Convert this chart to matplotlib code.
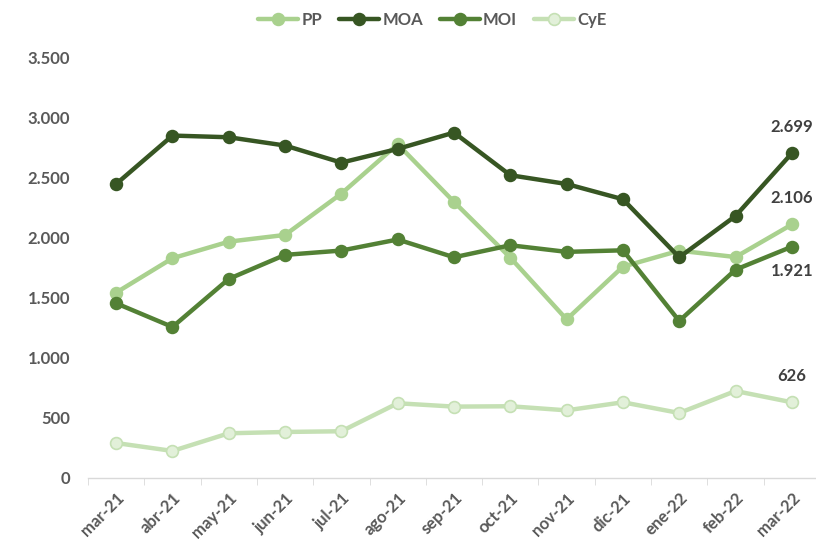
import matplotlib
matplotlib.use("Agg")
import matplotlib.pyplot as plt
from matplotlib.ticker import FuncFormatter

months = ["mar-21", "abr-21", "may-21", "jun-21", "jul-21", "ago-21", "sep-21",
          "oct-21", "nov-21", "dic-21", "ene-22", "feb-22", "mar-22"]
pp = [1539, 1825, 1963, 2019, 2363, 2774, 2294, 1830, 1316, 1755, 1888, 1835, 2106]
moa = [2443, 2846, 2832, 2763, 2621, 2735, 2871, 2516, 2443, 2316, 1833, 2177, 2699]
moi = [1450, 1253, 1653, 1853, 1889, 1981, 1833, 1933, 1878, 1891, 1303, 1730, 1921]
cye = [287, 221, 368, 379, 385, 618, 590, 593, 559, 626, 537, 720, 626]

plt.rcParams['font.family'] = ['Lato', 'DejaVu Sans']

fig = plt.figure(figsize=(8.16, 5.41), dpi=100)
ax = fig.add_axes([88/816, 1-477.5/541, 732/816, 420.5/541])

x = list(range(len(months)))
series = [
    ("PP", pp, "#a9d18e", "#a9d18e", "#a9d18e"),
    ("MOA", moa, "#375623", "#375623", "#375623"),
    ("MOI", moi, "#538135", "#538135", "#538135"),
    ("CyE", cye, "#c5e0b4", "#e2f0d9", "#c5e0b4"),
]
for name, vals, col, mfc, mec in series:
    ax.plot(x, vals, color=col, lw=3.2, marker="o", ms=8.5, mfc=mfc, mec=mec,
            mew=1.2, label=name, solid_capstyle="round", zorder=3)

lab_col = "#404040"
fs = 12
ax.annotate("2.699", (12, moa[-1]), xytext=(0, 13), textcoords="offset points",
            ha="center", va="bottom", fontsize=fs, fontweight="bold", color=lab_col)
ax.annotate("2.106", (12, pp[-1]), xytext=(0, 13), textcoords="offset points",
            ha="center", va="bottom", fontsize=fs, fontweight="bold", color=lab_col)
ax.annotate("1.921", (12, moi[-1]), xytext=(0, -12), textcoords="offset points",
            ha="center", va="top", fontsize=fs, fontweight="bold", color=lab_col)
ax.annotate("626", (12, cye[-1]), xytext=(0, 13), textcoords="offset points",
            ha="center", va="bottom", fontsize=fs, fontweight="bold", color=lab_col)

ax.set_xlim(-0.5, 12.5)
ax.set_ylim(0, 3500)
ax.set_yticks(range(0, 3501, 500))
ax.yaxis.set_major_formatter(FuncFormatter(lambda v, p: f"{int(v):,}".replace(",", ".")))
ax.set_xticks(x)
ax.set_xticklabels(months, rotation=45, ha="right", rotation_mode="anchor")
ax.set_xticks([i - 0.5 for i in range(14)], minor=True)

for s in ["top", "right", "left"]:
    ax.spines[s].set_visible(False)
ax.spines["bottom"].set_color("#d9d9d9")
ax.spines["bottom"].set_linewidth(1)
ax.tick_params(axis="y", length=0, pad=13, labelsize=12, labelcolor="#595959")
ax.tick_params(axis="x", which="major", length=0, pad=9, labelsize=12, labelcolor="#595959")
ax.tick_params(axis="x", which="minor", length=5, color="#d9d9d9")
for t in ax.get_xticklabels() + ax.get_yticklabels():
    t.set_fontweight("bold")

leg = fig.legend(loc="upper center", bbox_to_anchor=(0.53, 1.005), ncol=4, frameon=False,
                 handlelength=2.4, columnspacing=1.0, handletextpad=0.2,
                 prop={"weight": "bold", "size": 12})
for t in leg.get_texts():
    t.set_color("#595959")

fig.savefig("out.png", dpi=100)
